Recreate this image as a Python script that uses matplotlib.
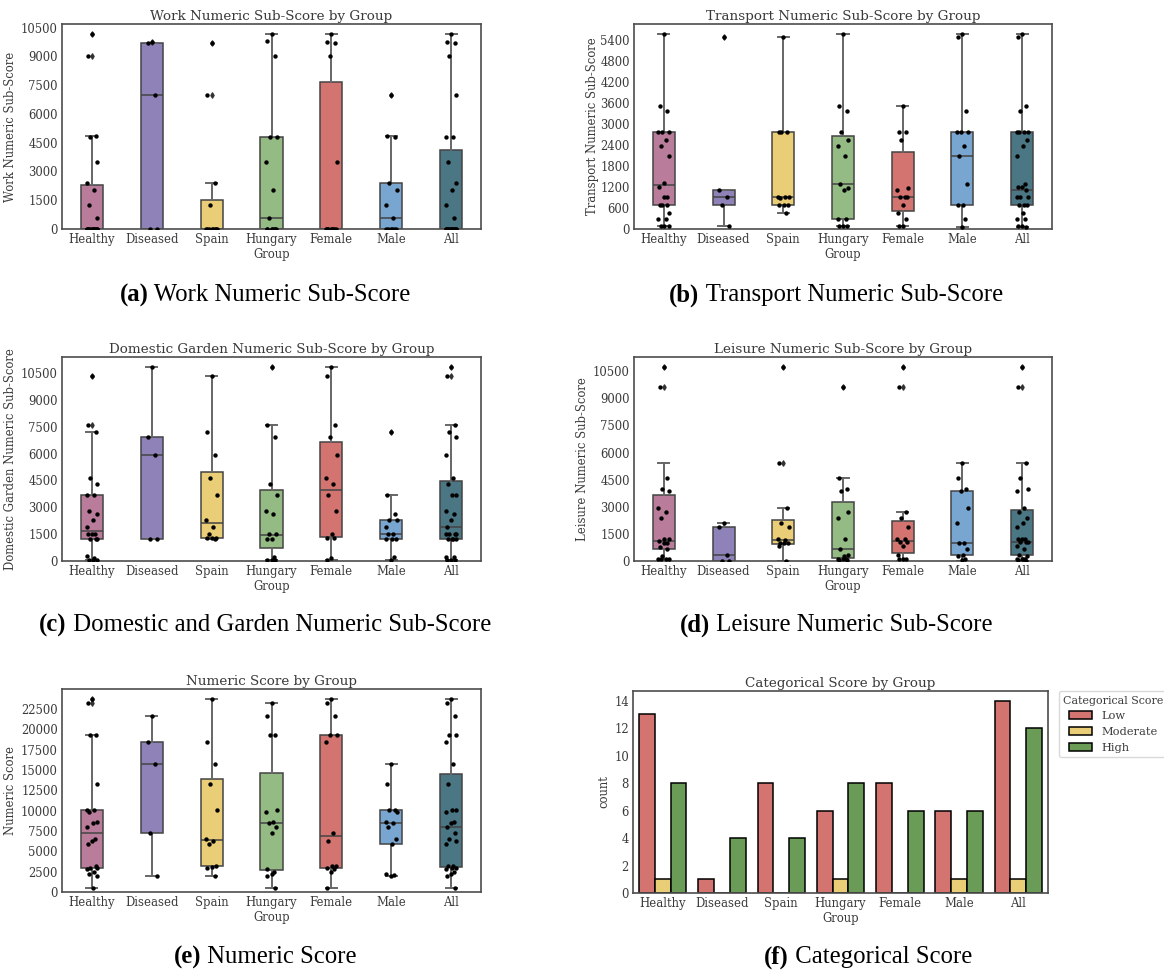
import matplotlib
matplotlib.use("Agg")
import matplotlib.pyplot as plt
from matplotlib.ticker import MultipleLocator
from matplotlib.patches import Patch

groups = ["Healthy", "Diseased", "Spain", "Hungary", "Female", "Male", "All"]
group_colors = ["#b97c9b", "#8e82b8", "#e9cd77", "#95bb84", "#d37471", "#79a6d0", "#4b7785"]

# (a) work sub-score: raw points per group + box stats
work_points = [
    [10180, 9036, 4857, 4780, 3517, 2400, 2054, 1253, 592] + [0] * 13,
    [9767, 9697, 6964, 0, 0],
    [9697, 6964, 2385, 1253] + [0] * 8,
    [10180, 9784, 9036, 4823, 4780, 3517, 2054, 592] + [0] * 7,
    [10180, 9767, 9697, 9036, 3517] + [0] * 9,
    [6964, 4857, 4780, 2385, 2054, 1253, 592] + [0] * 6,
    [10180, 9767, 9697, 9036, 6964, 4823, 4780, 3517, 2400, 2054, 1253, 592] + [0] * 15,
]
work_q1 = [0, 0, 0, 0, 0, 0, 0]
work_med = [0, 6964, 0, 592, 0, 592, 0]
work_q3 = [2315, 9697, 1532, 4823, 7660, 2385, 4126]
work_lo = [0, 0, 0, 0, 0, 0, 0]
work_hi = [4857, 9697, 2385, 10180, 10180, 4857, 10180]

# (b) transport sub-score
transport_points = [
    [5588, 3527, 3364, 2780, 2780, 2780, 2559, 2367, 2090, 1304, 1198, 910, 910,
     700, 700, 700, 460, 297, 297, 80, 80, 80],
    [5502, 1121, 930, 700, 96],
    [5502, 2780, 2780, 2780, 920, 920, 920, 900, 700, 700, 700, 470],
    [5588, 3527, 3364, 2780, 2559, 2367, 2090, 1294, 1160, 1112, 297, 297, 80, 80, 80],
    [3527, 2780, 2780, 2559, 1179, 1121, 920, 920, 920, 700, 460, 297, 100, 100],
    [5588, 5502, 3364, 2780, 2780, 2780, 2367, 2090, 1294, 700, 700, 297, 60],
    [5588, 5502, 3527, 3364, 2780, 2780, 2780, 2780, 2559, 2367, 2090, 1294, 1198,
     1198, 1121, 920, 920, 920, 700, 700, 700, 460, 297, 297, 80, 80, 60],
]
transport_q1 = [700, 700, 700, 297, 518, 700, 700]
transport_med = [1246, 930, 910, 1294, 920, 2080, 1121]
transport_q3 = [2780, 1121, 2780, 2665, 2205, 2780, 2780]
transport_lo = [80, 96, 470, 80, 100, 60, 60]
transport_hi = [5588, 1121, 5502, 5588, 3527, 5588, 5588]

# (c) domestic and garden sub-score
domestic_points = [
    [10323, 7607, 7198, 4650, 4278, 3664, 3664, 2771, 2641, 2306, 1897, 1488, 1488,
     1488, 1246, 1246, 1246, 260, 150, 80, 80, 80],
    [10844, 6919, 5896, 1246, 1246],
    [10323, 7198, 5896, 4650, 3664, 2306, 1897, 1488, 1302, 1302, 1302, 1246],
    [10844, 7607, 6919, 4278, 3664, 2771, 2641, 1488, 1488, 1246, 1246, 250, 80, 80, 80],
    [10844, 10323, 7607, 6919, 5896, 4650, 4278, 3664, 2771, 1488, 1302, 1302, 150, 80],
    [7198, 3664, 2641, 2306, 2306, 1897, 1488, 1488, 1246, 1246, 1246, 250, 80],
    [10844, 10323, 7607, 7198, 6919, 5896, 4650, 4278, 3664, 3664, 2771, 2641, 2306,
     1897, 1488, 1488, 1488, 1488, 1246, 1246, 1246, 1246, 250, 250, 80, 80, 80],
]
domestic_q1 = [1246, 1246, 1302, 744, 1358, 1246, 1246]
domestic_med = [1693, 5896, 2102, 1469, 3962, 1488, 1897]
domestic_q3 = [3664, 6919, 4948, 3962, 6659, 2306, 4464]
domestic_lo = [80, 1246, 1246, 80, 80, 80, 80]
domestic_hi = [7198, 10844, 10323, 7607, 10844, 3664, 7607]

# (d) leisure sub-score
leisure_points = [
    [10745, 9602, 4608, 3999, 3870, 2949, 2709, 2359, 1198, 1198, 1124, 1014, 1014,
     756, 645, 295, 100, 100, 100, 100],
    [2101, 1880, 350, 0, 0],
    [10745, 5437, 2949, 2101, 1880, 1198, 1143, 1000, 1000, 1000, 848, 0],
    [9602, 4608, 3999, 3870, 2709, 2359, 1198, 682, 350, 295, 100, 100, 100, 50, 50],
    [10745, 9602, 2709, 2359, 1880, 1198, 1198, 1050, 1050, 848, 350, 100, 100, 100],
    [5437, 4608, 3999, 3870, 2949, 2101, 977, 977, 682, 350, 295, 100, 50],
    [10745, 9602, 5437, 4608, 3999, 3870, 2949, 2709, 2359, 2101, 1880, 1198, 1198,
     1198, 1050, 1050, 1050, 848, 682, 350, 295, 100, 100, 100, 100, 50, 0],
]
leisure_q1 = [682, 0, 958, 184, 442, 332, 332]
leisure_med = [1124, 350, 1143, 682, 1124, 977, 1050]
leisure_q3 = [3631, 1880, 2285, 3280, 2212, 3870, 2801]
leisure_lo = [100, 0, 0, 0, 0, 0, 0]
leisure_hi = [5437, 2101, 2949, 4608, 2709, 5437, 5437]

# (e) numeric score
numeric_points = [
    [23750, 23232, 19231, 19231, 13229, 10045, 10045, 9799, 8615, 8452, 8044, 6533,
     6288, 5880, 3226, 2981, 2981, 2817, 2491, 2205, 1960, 531],
    [21681, 18374, 15720, 7309, 1960],
    [23750, 18374, 15720, 13229, 10045, 6533, 6288, 5880, 3226, 3100, 2900, 1960],
    [23232, 21681, 19231, 19231, 10045, 9799, 8615, 8452, 8044, 7309, 2817, 2400,
     2205, 1960, 531],
    [23750, 23232, 21681, 19231, 19231, 18374, 7309, 6288, 3226, 3226, 2981, 2817,
     2491, 531],
    [15720, 13229, 10045, 10045, 9799, 8615, 8452, 8044, 6533, 5880, 2205, 2100, 1960],
    [23750, 23232, 21681, 19231, 19231, 18374, 15720, 13229, 10045, 10045, 9799,
     8615, 8452, 8044, 7309, 6533, 6288, 5880, 3226, 3226, 2981, 2981, 2817, 2491,
     2205, 1960, 531],
]
numeric_q1 = [2981, 7309, 3226, 2695, 2981, 5880, 3062]
numeric_med = [7309, 15720, 6369, 8452, 6819, 8452, 8044]
numeric_q3 = [10045, 18374, 13882, 14576, 19231, 10045, 14454]
numeric_lo = [531, 1960, 1960, 531, 531, 1960, 531]
numeric_hi = [19231, 21681, 23750, 23232, 23750, 15720, 23750]

# (f) categorical score counts
cat_levels = ["Low", "Moderate", "High"]
cat_colors = ["#d37471", "#e9cd77", "#6a9c58"]
count_low = [13, 1, 8, 6, 8, 6, 14]
count_moderate = [1, 0, 0, 1, 0, 1, 1]
count_high = [8, 4, 4, 8, 6, 6, 12]

captions = [
    ("(a)", "Work Numeric Sub-Score"),
    ("(b)", "Transport Numeric Sub-Score"),
    ("(c)", "Domestic and Garden Numeric Sub-Score"),
    ("(d)", "Leisure Numeric Sub-Score"),
    ("(e)", "Numeric Score"),
    ("(f)", "Categorical Score"),
]

plt.rcParams["font.family"] = "DejaVu Serif"
TXT = "#3a3a3a"
W, H = 1164, 971
fig = plt.figure(figsize=(W / 100, H / 100), dpi=100)


def px_axes(x0, y0, x1, y1):
    return fig.add_axes([x0 / W, 1 - y1 / H, (x1 - x0) / W, (y1 - y0) / H])


def style_axes(ax, title, ylabel, ypad=3):
    for s in ax.spines.values():
        s.set_color("#4d4d4d")
        s.set_linewidth(1.2)
    ax.tick_params(length=0, pad=3, labelsize=8.4, labelcolor=TXT)
    ax.set_title(title, fontsize=9.7, color=TXT, pad=3)
    ax.set_ylabel(ylabel, fontsize=8.4, color=TXT, labelpad=ypad)
    ax.set_xlabel("Group", fontsize=8.4, color=TXT, labelpad=1.5)
    ax.set_xticks(range(len(groups)))
    ax.set_xticklabels(groups)
    ax.set_xlim(-0.5, len(groups) - 0.5)


jitter = [0.0, -0.07, 0.06, -0.03, 0.09, -0.09, 0.03, -0.05, 0.08, 0.01, -0.08, 0.05]


def box_panel(ax, title, ylabel, pts, q1, med, q3, lo, hi, step, ypad=3):
    stats = []
    for i in range(len(groups)):
        stats.append(dict(med=med[i], q1=q1[i], q3=q3[i], whislo=lo[i], whishi=hi[i], fliers=[]))
    bp = ax.bxp(stats, positions=range(len(groups)), widths=0.37, patch_artist=True,
                showfliers=False,
                boxprops=dict(edgecolor="#444444", linewidth=1.1),
                whiskerprops=dict(color="#666666", linewidth=1.4),
                capprops=dict(color="#666666", linewidth=1.4),
                medianprops=dict(color="#444444", linewidth=1.1))
    for patch, c in zip(bp["boxes"], group_colors):
        patch.set_facecolor(c)
    for i, vals in enumerate(pts):
        fl = [v for v in vals if v > hi[i] or v < lo[i]]
        ax.scatter([i] * len(fl), fl, marker="d", s=7, color="#333333", zorder=3)
        xs = [i + jitter[k % len(jitter)] for k in range(len(vals))]
        ax.scatter(xs, vals, s=10, color="black", zorder=4, linewidths=0)
    top = max(max(v) for v in pts)
    ax.set_ylim(0, top * 1.05)
    ax.yaxis.set_major_locator(MultipleLocator(step))
    style_axes(ax, title, ylabel, ypad)


ax_a = px_axes(62, 24, 481, 229)
box_panel(ax_a, "Work Numeric Sub-Score by Group", "Work Numeric Sub-Score",
          work_points, work_q1, work_med, work_q3, work_lo, work_hi, 1500)

ax_b = px_axes(634, 24, 1052, 229)
box_panel(ax_b, "Transport Numeric Sub-Score by Group", "Transport Numeric Sub-Score",
          transport_points, transport_q1, transport_med, transport_q3, transport_lo,
          transport_hi, 600, ypad=1)

ax_c = px_axes(62, 357, 481, 561)
box_panel(ax_c, "Domestic Garden Numeric Sub-Score by Group",
          "Domestic Garden Numeric Sub-Score", domestic_points, domestic_q1,
          domestic_med, domestic_q3, domestic_lo, domestic_hi, 1500)

ax_d = px_axes(634, 357, 1052, 561)
box_panel(ax_d, "Leisure Numeric Sub-Score by Group", "Leisure Numeric Sub-Score",
          leisure_points, leisure_q1, leisure_med, leisure_q3, leisure_lo, leisure_hi, 1500)

ax_e = px_axes(62, 689, 481, 892)
box_panel(ax_e, "Numeric Score by Group", "Numeric Score", numeric_points, numeric_q1,
          numeric_med, numeric_q3, numeric_lo, numeric_hi, 2500)

# categorical counts
ax_f = px_axes(633, 691, 1048, 893)
bw = 0.8 / 3
for j, (counts, c) in enumerate(zip([count_low, count_moderate, count_high], cat_colors)):
    xs = [i + (j - 1) * bw for i in range(len(groups))]
    ax_f.bar(xs, counts, width=bw, color=c, edgecolor="black", linewidth=1.1)
ax_f.set_ylim(0, 14 * 1.05)
ax_f.yaxis.set_major_locator(MultipleLocator(2))
style_axes(ax_f, "Categorical Score by Group", "count")
handles = [Patch(facecolor=c, edgecolor="black", linewidth=1.1) for c in cat_colors]
leg = ax_f.legend(handles, cat_levels, title="Categorical Score", loc="upper left",
                  bbox_to_anchor=(1.026, 1.0), borderaxespad=0, fontsize=8.2,
                  title_fontsize=7.9, frameon=True, labelcolor=TXT)
leg.get_title().set_color(TXT)
leg.get_frame().set_edgecolor("#d0d0d0")

# captions below each panel, bold label + regular text
renderer = fig.canvas.get_renderer()
cap_pos = [(265, 295), (836, 295), (265, 625), (836, 625), (265, 957), (868, 957)]
for (lab, txt), (cx, cy) in zip(captions, cap_pos):
    t1 = fig.text(0, 0, lab, fontsize=17.8, fontweight="bold", family="Liberation Serif",
                  va="center", ha="left")
    t2 = fig.text(0, 0, " " + txt, fontsize=17.8, family="Liberation Serif",
                  va="center", ha="left")
    w1 = t1.get_window_extent(renderer).width
    w2 = t2.get_window_extent(renderer).width
    x0 = cx - (w1 + w2) / 2
    t1.set_position((x0 / W, 1 - cy / H))
    t2.set_position(((x0 + w1) / W, 1 - cy / H))

fig.savefig("out.png", dpi=100)
